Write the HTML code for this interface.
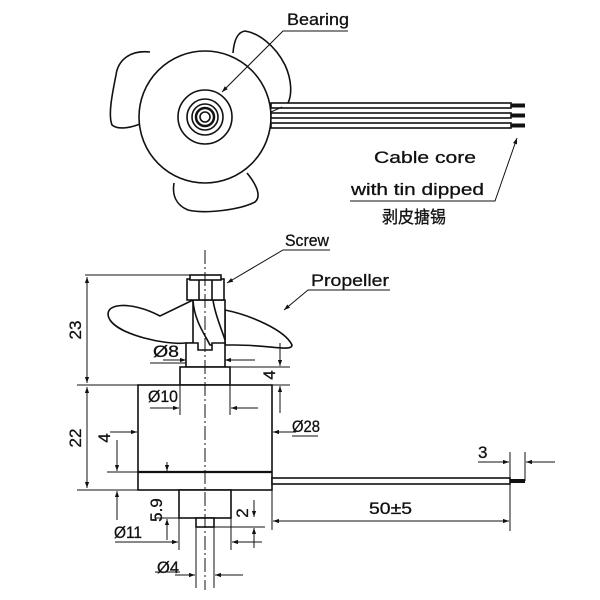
<!DOCTYPE html>
<html><head><meta charset="utf-8"><style>
html,body{margin:0;padding:0;background:#fff;width:600px;height:600px;overflow:hidden}
svg{display:block}
text{font-family:"Liberation Sans","Noto Sans CJK SC",sans-serif;font-size:17px;fill:#111;stroke:#111;stroke-width:0.3}
</style></head><body>
<svg width="600" height="600" viewBox="0 0 600 600" xmlns="http://www.w3.org/2000/svg">
<defs>
<marker id="a" viewBox="0 0 10 10" refX="10" refY="5" markerWidth="10" markerHeight="6" orient="auto-start-reverse" markerUnits="userSpaceOnUse"><path d="M0,1.5 L10,5 L0,8.5z" fill="#111" stroke="none"/></marker>
</defs>
<g fill="none" stroke="#111" stroke-width="1.6">
<path d="M150,52 C130,50 118,60 116,75 C112,95 108,115 112,125 C118,130 130,128 140,124"/>
<path d="M233,53 C234,40 238,32 245,31 C258,33 275,45 285,65 C292,80 292,95 288,103"/>
<path d="M174,183 C172,195 176,205 188,210 C205,214 240,210 255,202 C262,196 256,184 247,173"/>
<circle cx="205" cy="117" r="66" fill="#fff"/>
<circle cx="205" cy="117" r="27"/>
<circle cx="205" cy="117" r="18"/>
<circle cx="205" cy="117" r="13"/>
<circle cx="205" cy="117" r="9" stroke-width="2.5"/>
<circle cx="205" cy="117" r="5"/>
<rect x="271" y="103" width="240" height="5" fill="#fff"/>
<rect x="271" y="113" width="240" height="5" fill="#fff"/>
<rect x="271" y="123" width="240" height="5" fill="#fff"/>
<line x1="511" y1="105.5" x2="525" y2="105.5" stroke-width="4"/>
<line x1="511" y1="115.5" x2="525" y2="115.5" stroke-width="4"/>
<line x1="511" y1="125.5" x2="525" y2="125.5" stroke-width="4"/>
<line x1="271" y1="112" x2="282" y2="107" stroke-width="1"/>
</g>
<g fill="none" stroke="#111" stroke-width="1">
<path d="M348,31 H283 L222,92" marker-end="url(#a)"/>
<path d="M350,201 H495 L517,138" marker-end="url(#a)"/>
<path d="M330,250 H283 L227,283" marker-end="url(#a)"/>
<path d="M390,290 H308 L284,310" marker-end="url(#a)"/>
</g>
<text x="287" y="25" textLength="62" lengthAdjust="spacingAndGlyphs">Bearing</text>
<text x="374" y="163" textLength="102" lengthAdjust="spacingAndGlyphs">Cable core</text>
<text x="351" y="195" textLength="133" lengthAdjust="spacingAndGlyphs">with tin dipped</text>
<text x="382" y="223" textLength="64" lengthAdjust="spacingAndGlyphs">剥皮搪锡</text>
<text x="285" y="246" textLength="44" lengthAdjust="spacingAndGlyphs">Screw</text>
<text x="311" y="286" textLength="78" lengthAdjust="spacingAndGlyphs">Propeller</text>

<g fill="#fff" stroke="#111" stroke-width="1.6">
<path d="M160,316 C130,300 100,303 110,320 C120,335 165,345 185,343 L193,343 L193,300 Z"/>
<path d="M225,310 C250,315 285,330 292,345 C292,352 270,345 235,345 L225,345 Z"/>
<path d="M193,300 C194,320 205,335 210,345 L225,345 L225,300 Z"/>
<path d="M213,300 C215,315 222,330 225,340"/>
<rect x="187" y="279" width="37" height="21"/>
<rect x="190" y="275" width="31" height="5"/>
<line x1="199" y1="280" x2="199" y2="300"/>
<line x1="212" y1="280" x2="212" y2="300"/>
<path d="M186,343 H198 V350 H212 V343 H225 V367 H186 Z"/>
<rect x="180" y="367" width="50" height="18"/>
<rect x="138" y="385" width="134" height="105"/>
<line x1="138" y1="472" x2="272" y2="472" stroke-width="2.2"/>
<rect x="179" y="490" width="52" height="28"/>
<rect x="196" y="518" width="18" height="9"/>
<rect x="272" y="478" width="238" height="6"/>
<line x1="510" y1="481" x2="525" y2="481" stroke-width="4"/>
</g>
<g fill="none" stroke="#111" stroke-width="1">
<line x1="205" y1="250" x2="205" y2="590" stroke-dasharray="14,3,2,3"/>
<line x1="85" y1="275" x2="190" y2="275"/>
<line x1="77" y1="385" x2="290" y2="385"/>
<line x1="77" y1="490" x2="138" y2="490"/>
<line x1="87" y1="277" x2="87" y2="383" marker-start="url(#a)" marker-end="url(#a)"/>
<line x1="87" y1="387" x2="87" y2="488" marker-start="url(#a)" marker-end="url(#a)"/>
<line x1="163" y1="360" x2="186" y2="360" marker-end="url(#a)"/>
<line x1="255" y1="360" x2="225" y2="360" marker-end="url(#a)"/>
<line x1="150" y1="363" x2="186" y2="363"/>
<line x1="225" y1="367" x2="290" y2="367"/>
<line x1="280" y1="343" x2="280" y2="366" marker-end="url(#a)"/>
<line x1="280" y1="413" x2="280" y2="386" marker-end="url(#a)"/>
<line x1="180" y1="385" x2="180" y2="415"/>
<line x1="230" y1="385" x2="230" y2="415"/>
<line x1="150" y1="408" x2="179" y2="408" marker-end="url(#a)"/>
<line x1="258" y1="408" x2="231" y2="408" marker-end="url(#a)"/>
<line x1="110" y1="432" x2="137" y2="432" marker-end="url(#a)"/>
<line x1="296" y1="432" x2="273" y2="432" marker-end="url(#a)"/>
<line x1="292" y1="436" x2="318" y2="436"/>
<line x1="107" y1="472" x2="138" y2="472"/>
<line x1="117" y1="440" x2="117" y2="471" marker-end="url(#a)"/>
<line x1="117" y1="520" x2="117" y2="491" marker-end="url(#a)"/>
<line x1="167" y1="462" x2="167" y2="471" marker-end="url(#a)"/>
<line x1="167" y1="540" x2="167" y2="519" marker-end="url(#a)"/>
<line x1="155" y1="518" x2="196" y2="518"/>
<line x1="179" y1="490" x2="179" y2="550"/>
<line x1="231" y1="490" x2="231" y2="550"/>
<line x1="115" y1="542" x2="178" y2="542" marker-end="url(#a)"/>
<line x1="262" y1="542" x2="232" y2="542" marker-end="url(#a)"/>
<line x1="214" y1="527" x2="265" y2="527"/>
<line x1="254" y1="500" x2="254" y2="517" marker-end="url(#a)"/>
<line x1="254" y1="548" x2="254" y2="528" marker-end="url(#a)"/>
<line x1="196" y1="527" x2="196" y2="588"/>
<line x1="214" y1="527" x2="214" y2="588"/>
<line x1="175" y1="575" x2="195" y2="575" marker-end="url(#a)"/>
<line x1="243" y1="575" x2="215" y2="575" marker-end="url(#a)"/>
<line x1="155" y1="572" x2="180" y2="572"/>
<line x1="272" y1="490" x2="272" y2="530"/>
<line x1="510" y1="452" x2="510" y2="531"/>
<line x1="273" y1="521" x2="509" y2="521" marker-start="url(#a)" marker-end="url(#a)"/>
<line x1="525" y1="452" x2="525" y2="481"/>
<line x1="478" y1="462" x2="509" y2="462" marker-end="url(#a)"/>
<line x1="555" y1="462" x2="526" y2="462" marker-end="url(#a)"/>
</g>
<text x="153" y="357" textLength="26" lengthAdjust="spacingAndGlyphs">Ø8</text>
<text x="148" y="402" textLength="30" lengthAdjust="spacingAndGlyphs">Ø10</text>
<text x="292" y="432" textLength="28" lengthAdjust="spacingAndGlyphs">Ø28</text>
<text x="114" y="538" textLength="28" lengthAdjust="spacingAndGlyphs">Ø11</text>
<text x="157" y="573" textLength="22" lengthAdjust="spacingAndGlyphs">Ø4</text>
<text x="369" y="514" textLength="43" lengthAdjust="spacingAndGlyphs">50±5</text>
<text x="478" y="458">3</text>
<text transform="translate(81,330) rotate(-90)" text-anchor="middle">23</text>
<text transform="translate(81,438) rotate(-90)" text-anchor="middle">22</text>
<text transform="translate(110,438) rotate(-90)" text-anchor="middle">4</text>
<text transform="translate(275,375) rotate(-90)" text-anchor="middle">4</text>
<text transform="translate(162,510) rotate(-90)" text-anchor="middle">5.9</text>
<text transform="translate(248,513) rotate(-90)" text-anchor="middle">2</text>
</svg>
</body></html>
